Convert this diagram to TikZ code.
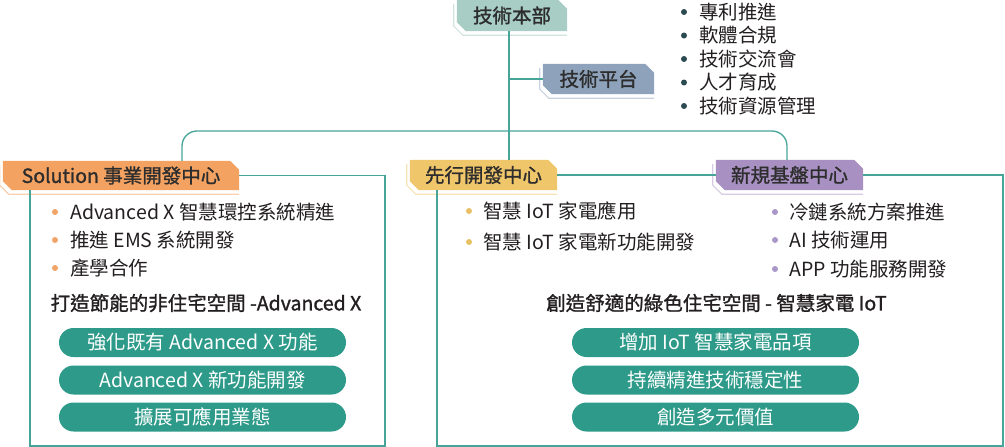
\documentclass[tikz,border=0pt]{standalone}
\usepackage{fontspec}
\setmainfont{Noto Sans CJK TC}
\newfontfamily\semib[FakeBold=1.3]{Noto Sans CJK TC}
\usetikzlibrary{backgrounds}
\definecolor{lineteal}{RGB}{70,165,152}
\definecolor{pillc}{RGB}{46,154,137}
\definecolor{txtc}{RGB}{35,31,32}
\definecolor{tagtext}{RGB}{45,45,45}
\definecolor{hqfill}{RGB}{167,205,196}
\definecolor{hqshad}{RGB}{207,228,223}
\definecolor{platfill}{RGB}{142,162,187}
\definecolor{platshad}{RGB}{200,210,222}
\definecolor{solfill}{RGB}{244,162,98}
\definecolor{solshad}{RGB}{249,208,176}
\definecolor{advfill}{RGB}{240,198,107}
\definecolor{advshad}{RGB}{247,227,181}
\definecolor{newfill}{RGB}{168,145,194}
\definecolor{newshad}{RGB}{214,203,227}
\definecolor{dotdark}{RGB}{44,74,82}
\definecolor{dotorange}{RGB}{240,164,106}
\definecolor{dotyellow}{RGB}{232,193,101}
\definecolor{dotpurple}{RGB}{170,150,200}
\tikzset{
  conn/.style={draw=lineteal, line width=1.3pt},
  txt/.style={inner sep=0pt, text height=14.8pt, text depth=0pt,
    font=\fontsize{19.5}{22}\selectfont, text=txtc},
  tagtxt/.style={txt, font=\semib\fontsize{19.5}{22}\selectfont, text=tagtext},
  boldtxt/.style={txt, font=\semib\fontsize{19.5}{22}\selectfont, text=txtc},
  pill/.style={txt, fill=pillc, text=white, rounded corners=14.5pt,
    minimum width=287pt, minimum height=29pt},
  dot/.style={circle, inner sep=0pt, minimum size=6pt},
}
\newcommand\labelbg[3]{%
  \fill[#2] (#1.north west) -- ([xshift=-9pt]#1.north east)
    -- ([yshift=-9pt]#1.north east) -- (#1.south east)
    -- ([xshift=9pt]#1.south west) -- ([yshift=9pt]#1.south west) -- cycle;
  \draw[#3, line width=1.2pt] ([shift={(-3pt,-4pt)}]#1.north west)
    -- ([shift={(-3pt,5pt)}]#1.south west)
    -- ([shift={(6pt,-4pt)}]#1.south west)
    -- ([shift={(0pt,-4pt)}]#1.south east);
}
\begin{document}
\begin{tikzpicture}[x=1pt,y=-1pt]
\useasboundingbox (0,0) rectangle (1005,447);

% label nodes
\node[tagtxt, minimum width=110pt, minimum height=31pt] (hq) at (512,15.5) {技術本部};
\node[tagtxt, minimum width=111pt, minimum height=30pt] (plat) at (598.5,79) {技術平台};
\node[tagtxt, minimum width=236pt, minimum height=29pt] (sol) at (121,175.5) {Solution 事業開發中心};
\node[tagtxt, minimum width=147pt, minimum height=30pt] (adv) at (483.5,175) {先行開發中心};
\node[tagtxt, minimum width=147pt, minimum height=30pt] (new) at (789.5,175) {新規基盤中心};

\begin{scope}[on background layer]
  \labelbg{hq}{hqfill}{hqshad}
  \labelbg{plat}{platfill}{platshad}
  \labelbg{sol}{solfill}{solshad}
  \labelbg{adv}{advfill}{advshad}
  \labelbg{new}{newfill}{newshad}
\end{scope}

% coordinates for connectors
\coordinate (tr) at (509,131);
\coordinate (lt) at (182,131);
\coordinate (rt) at (787,131);
\coordinate (lbr) at (385,446);
\coordinate (lbl) at (30,446);
\coordinate (rbr) at (1003,446);
\coordinate (rbl) at (437,446);

% connectors
\draw[conn] (hq.south -| tr) -- (adv.north -| tr);
\draw[conn] (plat.west -| tr) -- (plat.west);
\draw[conn, rounded corners=15pt] (sol.north -| lt) -- (lt) -- (rt) -- (new.north -| rt);
\draw[conn] (sol.east) -- (sol.east -| lbr) -- (lbr) -- (lbl) -- (sol.south -| lbl);
\draw[conn] (adv.east) -- (new.west);
\draw[conn] (new.east) -- (new.east -| rbr) -- (rbr) -- (rbl) -- (adv.south -| rbl);

% top right list
\node[dot, fill=dotdark] (t1b) at (684,12) {};
\node[txt, anchor=west] (t1) at (699,12) {專利推進};
\node[dot, fill=dotdark] (t2b) at (684,35.5) {};
\node[txt, anchor=west] (t2) at (699,35.5) {軟體合規};
\node[dot, fill=dotdark] (t3b) at (684,59) {};
\node[txt, anchor=west] (t3) at (699,59) {技術交流會};
\node[dot, fill=dotdark] (t4b) at (684,82.5) {};
\node[txt, anchor=west] (t4) at (699,82.5) {人才育成};
\node[dot, fill=dotdark] (t5b) at (684,106) {};
\node[txt, anchor=west] (t5) at (699,106) {技術資源管理};

% left box bullets
\node[dot, fill=dotorange] (s1b) at (55,212) {};
\node[txt, anchor=west] (s1) at (70,212) {Advanced X 智慧環控系統精進};
\node[dot, fill=dotorange] (s2b) at (55,240) {};
\node[txt, anchor=west] (s2) at (70,240) {推進 EMS 系統開發};
\node[dot, fill=dotorange] (s3b) at (55,268) {};
\node[txt, anchor=west] (s3) at (70,268) {產學合作};

\node[boldtxt] (sbold) at (206,303) {打造節能的非住宅空間 -Advanced X};
\node[pill] (sp1) at (202.5,342.5) {強化既有 Advanced X 功能};
\node[pill] (sp2) at (202.5,380) {Advanced X 新功能開發};
\node[pill] (sp3) at (202.5,417) {擴展可應用業態};

% advance center bullets
\node[dot, fill=dotyellow] (a1b) at (469,211) {};
\node[txt, anchor=west] (a1) at (483,211) {智慧 IoT 家電應用};
\node[dot, fill=dotyellow] (a2b) at (469,242) {};
\node[txt, anchor=west] (a2) at (483,242) {智慧 IoT 家電新功能開發};

% new platform bullets
\node[dot, fill=dotpurple] (n1b) at (775,212) {};
\node[txt, anchor=west] (n1) at (789,212) {冷鏈系統方案推進};
\node[dot, fill=dotpurple] (n2b) at (775,240) {};
\node[txt, anchor=west] (n2) at (789,240) {AI 技術運用};
\node[dot, fill=dotpurple] (n3b) at (775,269) {};
\node[txt, anchor=west] (n3) at (789,269) {APP 功能服務開發};

\node[boldtxt] (rbold) at (716.5,303) {創造舒適的綠色住宅空間 - 智慧家電 IoT};
\node[pill] (rp1) at (715.5,342.5) {增加 IoT 智慧家電品項};
\node[pill] (rp2) at (715.5,380) {持續精進技術穩定性};
\node[pill] (rp3) at (715.5,417) {創造多元價值};
\end{tikzpicture}
\end{document}
